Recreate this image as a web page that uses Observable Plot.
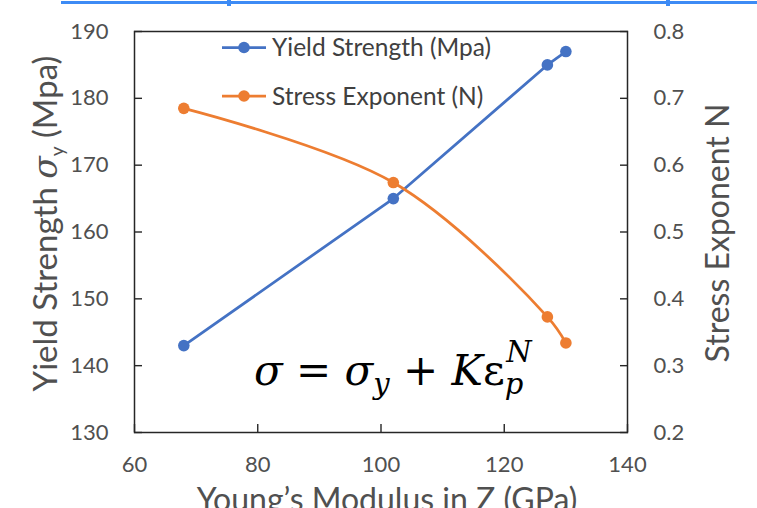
<!DOCTYPE html>
<html><head><meta charset="utf-8">
<script src="https://cdn.jsdelivr.net/npm/d3@7"></script>
<script src="https://cdn.jsdelivr.net/npm/@observablehq/plot@0.6"></script>
<style>
body{margin:0;background:#fff;}
#chart{position:relative;width:757px;height:508px;overflow:hidden;}
</style></head><body><div id="chart"></div>
<script>
// ---- data ----
const modulus = [68, 102, 127, 130];
const yieldStrength = [143, 165, 185, 187];
const stressExponent = [0.685, 0.574, 0.373, 0.334];
const xTicks = [60, 80, 100, 120, 140];
const leftTicks = [130, 140, 150, 160, 170, 180, 190];
const rightTicks = [0.2, 0.3, 0.4, 0.5, 0.6, 0.7, 0.8];
const seriesNames = ["Yield Strength (Mpa)", "Stress Exponent (N)"];
const colors = ["#4472C4", "#ED7D31"];
const xLabel = "Young\u2019s Modulus in Z (GPa)";
const leftLabel = ["Yield Strength ", "\u03C3", "y", " (Mpa)"];
const rightLabel = "Stress Exponent N";

// right axis [0.2,0.8] mapped onto left axis [130,190]
const toLeft = n => 130 + (n - 0.2) * 100;
const fromLeft = v => (v - 130) / 100 + 0.2;

const ys = modulus.map((m, i) => ({x: m, y: yieldStrength[i]}));
const ns = modulus.map((m, i) => ({x: m, y: toLeft(stressExponent[i])}));

const W = 757, H = 508;
const ink = "#262626", txt = "#505050";
const plot = Plot.plot({
  width: W, height: H,
  marginLeft: 134, marginRight: 130, marginTop: 31, marginBottom: 76,
  x: {domain: [60, 140]},
  y: {domain: [130, 190]},
  style: {fontFamily: "Lato, 'Open Sans', sans-serif", color: txt, background: "white", overflow: "visible"},
  marks: [
    Plot.frame({stroke: ink, strokeWidth: 1.5}),
    Plot.axisX({ticks: xTicks, tickSize: -8, text: null, label: null, stroke: ink, strokeWidth: 1.4}),
    Plot.axisX({ticks: xTicks, tickSize: 0, tickPadding: 24, fontSize: 22, label: null}),
    Plot.axisY({anchor: "left", ticks: leftTicks, tickSize: -8, text: null, label: null, stroke: ink, strokeWidth: 1.4}),
    Plot.axisY({anchor: "left", ticks: leftTicks, tickSize: 0, tickPadding: 26, fontSize: 22, label: null}),
    Plot.axisY({anchor: "right", ticks: rightTicks.map(toLeft), tickSize: -8, text: null, label: null, stroke: ink, strokeWidth: 1.4}),
    Plot.axisY({anchor: "right", ticks: rightTicks.map(toLeft), tickSize: 0, tickPadding: 26, fontSize: 22, label: null,
      tickFormat: v => fromLeft(v).toFixed(1)}),
    Plot.line(ys, {x: "x", y: "y", stroke: colors[0], strokeWidth: 2.75}),
    Plot.dot(ys, {x: "x", y: "y", r: 5.8, fill: colors[0]}),
    Plot.line(ns, {x: "x", y: "y", stroke: colors[1], strokeWidth: 2.75, curve: "catmull-rom"}),
    Plot.dot(ns, {x: "x", y: "y", r: 5.8, fill: colors[1]})
  ]
});
document.getElementById("chart").appendChild(plot);

const svg = d3.select(plot);
const sx = plot.scale("x"), sy = plot.scale("y");
const y0 = sy.apply(130), y1 = sy.apply(190);
const font = "Lato, 'Open Sans', sans-serif";

// top decorative blue rule
const deco = svg.append("g");
deco.append("line").attr("x1", 61).attr("x2", W).attr("y1", 2.5).attr("y2", 2.5)
  .attr("stroke", "#3d8bf5").attr("stroke-width", 3);
[229, 668].forEach(x => deco.append("rect").attr("x", x - 2).attr("y", 0).attr("width", 4).attr("height", 6).attr("fill", "#3d8bf5"));

// axis titles
svg.append("text").attr("x", 387).attr("y", 511).attr("text-anchor", "middle")
  .attr("font-family", font).attr("font-size", 32).attr("fill", txt).text(xLabel);

const lt = svg.append("text").attr("transform", `translate(57,${(y0 + y1) / 2 - 8}) rotate(-90)`)
  .attr("text-anchor", "middle").attr("font-family", font).attr("font-size", 33).attr("fill", txt);
lt.append("tspan").text(leftLabel[0]);
lt.append("tspan").attr("font-family", "'DejaVu Serif', serif").attr("font-style", "italic").text(leftLabel[1]);
lt.append("tspan").attr("font-size", 19).attr("dy", 7).text(leftLabel[2]);
lt.append("tspan").attr("dy", -7).text(leftLabel[3]);

svg.append("text").attr("transform", `translate(729,233) rotate(-90)`)
  .attr("text-anchor", "middle").attr("font-family", font).attr("font-size", 32).attr("fill", txt).text(rightLabel);

// legend
const lg = svg.append("g").attr("font-family", font).attr("font-size", 24.5).attr("fill", "#404040").attr("text-anchor", "start");
seriesNames.forEach((name, i) => {
  const y = 47.5 + i * 48.5;
  lg.append("line").attr("x1", 222).attr("x2", 266).attr("y1", y).attr("y2", y).attr("stroke", colors[i]).attr("stroke-width", 2.75);
  lg.append("circle").attr("cx", 244).attr("cy", y).attr("r", 5.8).attr("fill", colors[i]);
  lg.append("text").attr("x", 272).attr("y", y).attr("dy", "0.36em").text(name);
});

// formula annotation
const f = svg.append("text").attr("x", 254).attr("y", 385).attr("text-anchor", "start")
  .attr("font-family", "'DejaVu Serif', serif").attr("font-size", 42).attr("fill", "#000");
f.append("tspan").attr("font-style", "italic").text("\u03C3");
f.append("tspan").text(" = ");
f.append("tspan").attr("font-style", "italic").text("\u03C3");
f.append("tspan").attr("font-style", "italic").attr("font-size", 29).attr("dy", 9).text("y");
f.append("tspan").attr("dy", -9).text(" + ");
f.append("tspan").attr("font-style", "italic").text("K");
f.append("tspan").text("\u03B5");
f.append("tspan").attr("font-style", "italic").attr("font-size", 29).attr("dy", 9).text("p");
f.append("tspan").attr("font-style", "italic").attr("font-size", 29).attr("dx", -17).attr("dy", -32).text("N");
</script>
</body></html>
